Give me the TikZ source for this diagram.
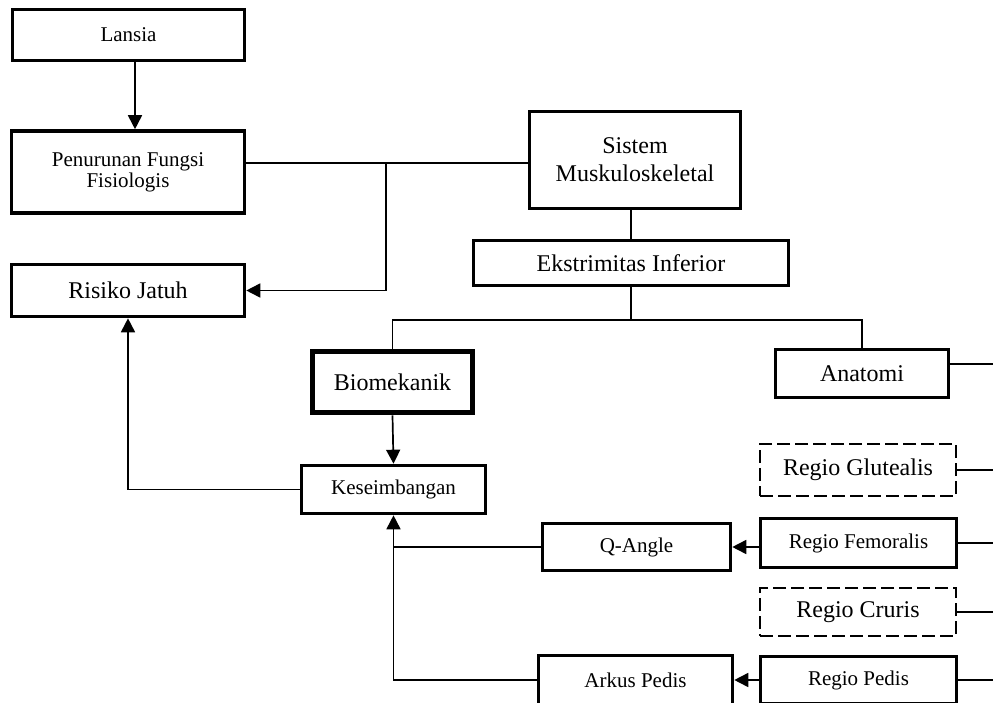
\documentclass[tikz,border=0pt]{standalone}
\usepackage{fontspec}
\setmainfont{Liberation Serif}
\usetikzlibrary{arrows.meta,calc}
\tikzset{
  box/.style={draw, rectangle, line width=1.8pt, inner sep=0pt, align=center},
  bigtxt/.style={font=\fontsize{12}{14}\selectfont},
  smalltxt/.style={font=\fontsize{10.5}{12.5}\selectfont},
  dbox/.style={draw, rectangle, line width=1.1pt, dash pattern=on 6.5pt off 2.5pt, inner sep=0pt, align=center},
  ln/.style={line width=0.85pt},
  arr/.style={ln, -{Triangle[length=7pt,width=7pt]}}
}
\begin{document}
\begin{tikzpicture}[x=0.5pt,y=-0.5pt]
\useasboundingbox (0,0) rectangle (993,703);
\clip (0,0) rectangle (993,703);
% nodes
\node[box,smalltxt,minimum width=116pt,minimum height=25.5pt] (lansia) at (128.5,35) {Lansia};
\node[box,font=\fontsize{10.5}{8.2}\selectfont,minimum width=116.5pt,minimum height=41pt] (penurunan) at (128,172) {Penurunan Fungsi\\Fisiologis};
\node[box,bigtxt,minimum width=116.5pt,minimum height=26pt] (risiko) at (128,290.5) {Risiko Jatuh};
\node[box,bigtxt,minimum width=105.5pt,minimum height=48.5pt] (sistem) at (635,160) {Sistem\\Muskuloskeletal};
\node[box,bigtxt,minimum width=157.5pt,minimum height=22.5pt] (ekstr) at (631,263) {Ekstrimitas Inferior};
\node[box,bigtxt,line width=2.8pt,minimum width=80pt,minimum height=30.5pt] (biomek) at (392.5,382) {Biomekanik};
\node[box,smalltxt,minimum width=92pt,minimum height=24pt] (kese) at (393.5,489.5) {Keseimbangan};
\node[box,smalltxt,minimum width=94pt,minimum height=23.5pt] (qangle) at (636.5,547) {Q-Angle};
\node[box,smalltxt,minimum width=97pt,minimum height=24.5pt] (arkus) at (635.5,680) {Arkus Pedis};
\node[box,bigtxt,minimum width=86.5pt,minimum height=24pt] (anatomi) at (862,373.5) {Anatomi};
\node[dbox,bigtxt,minimum width=98pt,minimum height=26pt] (glut) at (858,470) {Regio Glutealis};
\node[box,smalltxt,minimum width=98pt,minimum height=24.5pt] (femor) at (858.5,543) {Regio Femoralis};
\node[dbox,bigtxt,minimum width=98pt,minimum height=24pt] (cruris) at (858,612) {Regio Cruris};
\node[box,smalltxt,minimum width=98pt,minimum height=23.5pt] (pedis) at (858.5,680) {Regio Pedis};
% junction coordinates
\coordinate (j1) at (386,163);
\coordinate (j2) at (630,320);
\coordinate (rim) at (1000,364);
% connectors
\draw[arr] ($(lansia.south)+(6.5,0)$) -- ($(penurunan.north)+(7,0)$);
\draw[ln] (penurunan.east |- j1) -- (sistem.west |- j1);
\draw[arr] (j1) |- (risiko.east);
\draw[ln] (ekstr.north) -- (ekstr.north |- sistem.south);
\draw[ln] (ekstr.south) -- (ekstr.south |- j2);
\draw[ln] (biomek.north) -- (biomek.north |- j2) -- (anatomi.north |- j2) -- (anatomi.north);
\draw[arr] (biomek.south) -- (kese.north);
\draw[arr] (kese.west) -| (risiko.south);
\draw[arr] (arkus.west) -| (kese.south);
\draw[ln] (qangle.west) -- (qangle.west -| kese.south);
\draw[arr] (femor.west |- qangle.east) -- (qangle.east);
\draw[arr] (pedis.west) -- (arkus.east);
\draw[ln] (rim -| anatomi.east) -- (rim);
\draw[ln] (glut.east) -- (glut.east -| rim);
\draw[ln] (femor.east) -- (femor.east -| rim);
\draw[ln] (cruris.east) -- (cruris.east -| rim);
\draw[ln] (pedis.east) -- (pedis.east -| rim);
\end{tikzpicture}
\end{document}
